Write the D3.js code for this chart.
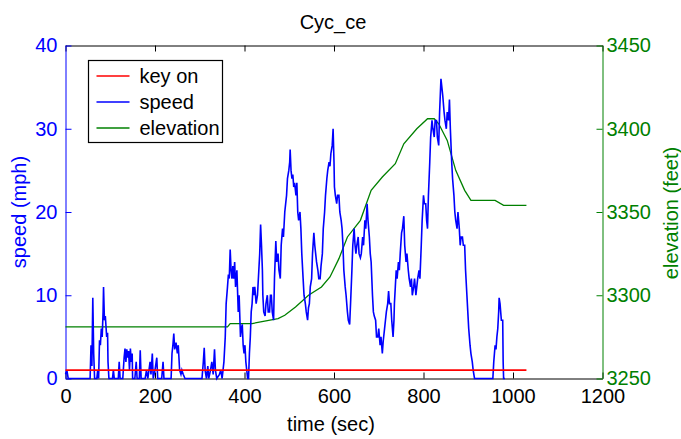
<!DOCTYPE html>
<html>
<head>
<meta charset="utf-8">
<script src="https://cdn.jsdelivr.net/npm/d3@7"></script>
<style>
  body { margin: 0; background: #fff; }
  text { font-family: "Liberation Sans", Arial, sans-serif; }
</style>
</head>
<body>
<div id="chart"></div>
<script>
// time (sec) vs speed (mph)
var speedData = [
  [0,0.5],[3,1],[6,0],[10,0],[55,0],[57,4],[59,1.5],[61,9.7],[63,3],[65,0],[70,0],[72,1],[74,0],
  [76,4.6],[78,4],[80,6],[82,5],[84,8],[85,11],[87,7],[89,7.5],[92,5],[94,5.5],[95,2],[97,0],
  [105,0],[107,1],[109,0],[118,0],[120,2],[122,0],[128,0],[131,2.5],[133,3.6],[135,2],[137,3.5],
  [139,2.5],[141,3.3],[143,1],[145,3.6],[147,2],[149,3],[150,0],[155,0],[158,2],[160,0],[165,0],
  [167,3.4],[169,0],[178,0],[181,1],[184,0],[189,2],[191,0.5],[194,3],[196,0],[200,1],[204,2.5],
  [206,0],[215,0],[218,2],[220,0],[236,0],[238,3],[240,4],[242,5.4],[244,3.5],[247,4.3],[250,3],
  [252,4],[255,1],[258,0.5],[260,1],[263,0.5],[267,0],[305,0],[308,2],[310,3.7],[312,1],[315,0],
  [318,1.5],[320,0],[324,1],[327,2],[330,0.5],[333,3.5],[335,1],[338,0],[344,0.5],[347,1],[350,0],
  [354,2],[357,5],[359,9],[362,11],[364,12.5],[366,12],[368,15.5],[370,13],[372,12],[374,13.5],
  [376,12],[378,14],[380,11],[383,13],[386,8],[388,10],[391,5],[393,6],[395,6.5],[397,4],[399,3],
  [401,4],[403,2],[405,1],[407,0],[409,0],[411,3],[413,5],[415,8],[417,9],[419,11],[421,10],
  [423,11],[426,9],[429,10],[432,13],[434,15],[436,18.5],[438,16],[440,13],[441,10],[443,8],
  [446,7.5],[448,9],[451,10],[453,8],[456,8],[458,10],[460,10],[462,8],[465,7],[467,12],[470,16.5],
  [472,14],[475,15],[477,13],[480,12],[482,16],[485,18],[487,17],[490,20],[492,21],[494,22],
  [496,24],[499,25],[501,26],[502,27.5],[504,25],[506,24],[508,24.5],[510,23],[512,23.5],[515,22],
  [517,23.5],[519,20],[521,19],[524,20],[526,18],[528,15],[531,12],[533,10],[536,9],[538,8],
  [541,7],[543,8.5],[545,9],[547,11],[550,12],[552,15],[555,17.5],[557,16],[559,15],[561,14],
  [564,13],[566,12],[569,12],[571,13.5],[574,15],[576,18],[579,20],[581,22],[584,24],[586,25],
  [589,26],[591,25.5],[593,27],[596,28],[598,30],[600,26],[601,23],[603,22],[606,21],[608,22],
  [611,22],[613,20],[616,19],[618,18],[620,16],[622,13],[625,11],[627,10],[630,8],[632,7],
  [635,6.5],[637,9],[640,13],[642,16],[645,18],[647,16],[649,15],[651,16],[654,17],[656,15],
  [659,14.5],[661,15],[664,17],[666,16],[669,19],[671,18],[674,21],[676,19],[679,17],[681,15],
  [683,14],[686,10],[688,8],[690,7.5],[693,7],[695,5],[698,5],[700,6],[703,4],[705,5],[708,3],
  [710,4.5],[713,6],[715,7],[717,8],[720,9],[722,10.5],[724,9],[727,9],[729,7],[732,5],[734,7],
  [735,9],[737,11],[739,13],[741,12],[744,14],[746,13],[748,15],[751,17.5],[753,18],[756,19.5],
  [758,16],[761,14],[763,15],[766,13],[768,12],[771,11],[773,12],[775,10],[778,11],[780,12],
  [783,10],[785,11],[787,12],[790,13],[792,12],[795,16],[797,19],[800,22],[802,21],[805,21],
  [807,19],[809,18],[811,22],[814,26],[816,29],[819,31],[821,30],[824,29],[826,31],[829,31],
  [831,29],[834,28],[836,32],[839,36],[841,35],[843,34],[846,32],[848,31],[851,30],[853,32],
  [856,31],[858,33.5],[860,30],[863,26],[865,24],[868,22],[870,20],[872,19],[875,18],[877,20],
  [880,18],[882,16],[884,17],[887,17],[889,16],[892,16],[894,13],[897,10],[899,8],[901,6],
  [904,4],[906,3],[909,2],[911,1],[914,0],[955,0],[957,2],[960,4],[962,3.5],[964,5],[966,6],
  [968,8],[969,9.7],[971,9],[974,7],[977,7],[978,2],[979,0],[982,0]
];

// time (sec) vs elevation (feet)
var elevData = [
  [0,3281],[362,3281],[368,3283],[417,3283],[436,3284],[475,3286],[490,3288],[514,3293],
  [543,3300],[572,3305],[591,3311],[611,3322],[630,3335],[659,3345],[683,3363],[708,3371],
  [737,3379],[756,3391],[785,3400],[809,3406],[824,3406],[834,3403],[853,3393],[872,3375],
  [892,3363],[906,3357],[960,3357],[979,3354],[1030,3354]
];

// key on signal
var keyOnData = [[0,1],[1030,1]];

var xTicks = [0, 200, 400, 600, 800, 1000, 1200];
var speedTicks = [0, 10, 20, 30, 40];
var elevTicks = [3250, 3300, 3350, 3400, 3450];
var legendNames = ["key on", "speed", "elevation"];

var width = 681,
    height = 439;
var m = { left: 65.5, right: 602.5, top: 45.5, bottom: 378.5 };

var blue = "#0000ff", green = "#008000", red = "#ff0000";
var font = "Liberation Sans, Arial, sans-serif";

var svg = d3.select("#chart")
    .append("svg")
    .attr("width", width)
    .attr("height", height);

var x = d3.scaleLinear().domain([0, 1200]).range([m.left, m.right]);
var ySpeed = d3.scaleLinear().domain([0, 40]).range([m.bottom, m.top]);
var yElev = d3.scaleLinear().domain([3250, 3450]).range([m.bottom, m.top]);

var plain = d3.format("d");

// axes: ticks point inward like matlab
svg.append("g")
    .attr("transform", "translate(0," + m.bottom + ")")
    .call(d3.axisBottom(x).tickValues(xTicks).tickFormat(plain).tickSizeInner(-6).tickSizeOuter(0).tickPadding(10))
    .call(function(g) {
        g.select(".domain").attr("stroke", "#000");
        g.selectAll("text").attr("font-size", 20).attr("fill", "#000").attr("font-family", font);
    });

svg.append("g")
    .attr("transform", "translate(0," + m.top + ")")
    .call(d3.axisTop(x).tickValues(xTicks).tickSizeInner(-6).tickSizeOuter(0).tickFormat(""))
    .call(function(g) { g.select(".domain").attr("stroke", "#000"); });

svg.append("g")
    .attr("transform", "translate(" + m.left + ",0)")
    .call(d3.axisLeft(ySpeed).tickValues(speedTicks).tickFormat(plain).tickSizeInner(-6).tickSizeOuter(0).tickPadding(8))
    .call(function(g) {
        g.select(".domain").attr("stroke", blue);
        g.selectAll("line").attr("stroke", blue);
        g.selectAll("text").attr("font-size", 20).attr("fill", blue).attr("font-family", font);
    });

svg.append("g")
    .attr("transform", "translate(" + m.right + ",0)")
    .call(d3.axisRight(yElev).tickValues(elevTicks).tickFormat(plain).tickSizeInner(-6).tickSizeOuter(0).tickPadding(4))
    .call(function(g) {
        g.select(".domain").attr("stroke", green);
        g.selectAll("line").attr("stroke", green);
        g.selectAll("text").attr("font-size", 20).attr("fill", green).attr("font-family", font);
    });

var line = function(ys) {
    return d3.line().x(function(d) { return x(d[0]); }).y(function(d) { return ys(d[1]); });
};

svg.append("path")
    .datum(elevData)
    .attr("d", line(yElev))
    .attr("fill", "none")
    .attr("stroke", green)
    .attr("stroke-width", 1.3);

svg.append("path")
    .datum(speedData)
    .attr("d", line(ySpeed))
    .attr("fill", "none")
    .attr("stroke", blue)
    .attr("stroke-width", 1.6);

svg.append("path")
    .datum(keyOnData)
    .attr("d", line(ySpeed))
    .attr("fill", "none")
    .attr("stroke", red)
    .attr("stroke-width", 1.8);

// titles
svg.append("text")
    .attr("x", 333).attr("y", 29)
    .attr("text-anchor", "middle")
    .attr("font-size", 20)
    .text("Cyc_ce");

svg.append("text")
    .attr("x", 331).attr("y", 431)
    .attr("text-anchor", "middle")
    .attr("font-size", 20)
    .text("time (sec)");

svg.append("text")
    .attr("transform", "translate(26,212) rotate(-90)")
    .attr("text-anchor", "middle")
    .attr("font-size", 20)
    .attr("fill", blue)
    .text("speed (mph)");

svg.append("text")
    .attr("transform", "translate(678,213) rotate(-90)")
    .attr("text-anchor", "middle")
    .attr("font-size", 20)
    .attr("fill", green)
    .text("elevation (feet)");

// legend
var legend = svg.append("g").attr("transform", "translate(88.5,60.5)");
legend.append("rect")
    .attr("width", 134).attr("height", 82)
    .attr("fill", "#fff").attr("stroke", "#000").attr("stroke-width", 1.2);

var legendColors = [red, blue, green];
legendNames.forEach(function(name, i) {
    var row = legend.append("g").attr("transform", "translate(0," + (15.5 + i * 26) + ")");
    row.append("line")
        .attr("x1", 8).attr("x2", 41)
        .attr("stroke", legendColors[i]).attr("stroke-width", 1.5);
    row.append("text")
        .attr("x", 51).attr("y", 0).attr("dy", "0.35em")
        .attr("font-size", 20)
        .text(name);
});
</script>
</body>
</html>
